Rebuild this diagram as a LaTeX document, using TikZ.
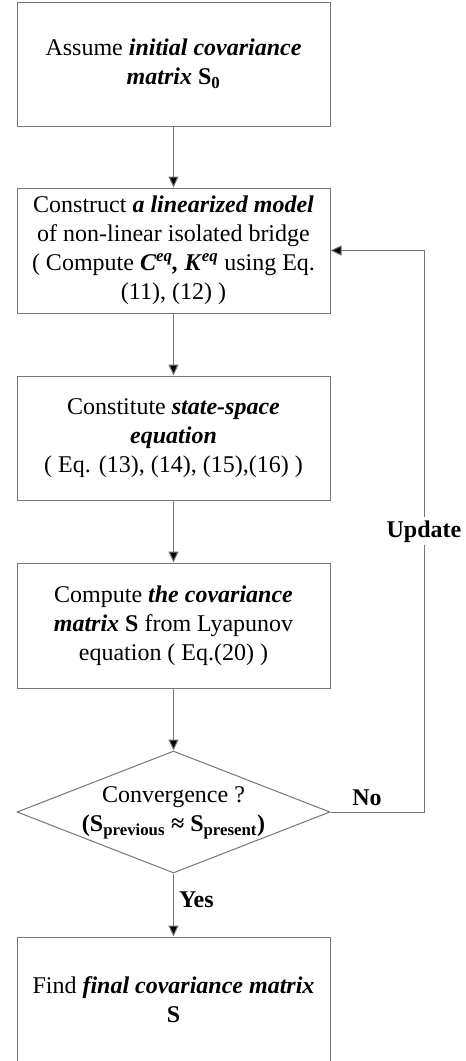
\documentclass[tikz,border=0pt]{standalone}
\usepackage{fontspec}
\setmainfont{Liberation Serif}
\usetikzlibrary{arrows.meta,shapes.geometric}
\definecolor{linegray}{RGB}{118,118,118}
\newcommand{\bi}[1]{\textbf{\textit{#1}}}
\begin{document}
\begin{tikzpicture}[x=1pt,y=1pt,
  every node/.style={font=\fontsize{24}{29}\selectfont},
  procbox/.style={draw=linegray, line width=1pt, minimum width=313pt, inner sep=0pt, align=center, text=black},
  flow/.style={draw=linegray, line width=1pt, -{Triangle[length=11pt,width=10pt,fill=black]}},
  lbl/.style={font=\fontsize{24}{29}\selectfont\bfseries, inner sep=1pt}
]
\useasboundingbox (0,0) rectangle (466,-1061);
\fill[white] (0,0) rectangle (466,-1061);

\node[procbox, minimum height=124pt] (b1) at (173.5,-64) {Assume \bi{initial covariance}\\ \bi{matrix} \textbf{S\textsubscript{0}}};
\node[procbox, minimum height=125pt] (b2) at (173.5,-250.5) {Construct \bi{a linearized model}\\ of non-linear isolated bridge\\ ( Compute \bi{C}\textsuperscript{\bi{eq}}\bi{, K}\textsuperscript{\bi{eq}} using Eq.\\ (11), (12) )};
\node[procbox, minimum height=124pt] (b3) at (173.5,-438) {Constitute \bi{state-space}\\ \bi{equation}\\ ( Eq. (13), (14), (15),(16) )};
\node[procbox, minimum height=125pt] (b4) at (173.5,-625.5) {Compute \bi{the covariance}\\ \bi{matrix} \textbf{S} from Lyapunov\\ equation ( Eq.(20) )};
\node[diamond, draw=linegray, line width=1pt, minimum width=313pt, minimum height=122pt, inner sep=0pt] (d) at (173.5,-812) {};
\node[align=center, inner sep=0pt] (dt) at (173.5,-813) {Convergence ?\\ \textbf{(S\textsubscript{previous} ≈ S\textsubscript{present})}};
\node[procbox, minimum height=125pt] (b5) at (173.5,-999.5) {Find \bi{final covariance matrix}\\ \textbf{S}};

\coordinate (loopc) at (424,-812);

\draw[flow] (b1) -- (b2);
\draw[flow] (b2) -- (b3);
\draw[flow] (b3) -- (b4);
\draw[flow] (b4) -- (d);
\draw[flow] (d) -- node[lbl, right, xshift=4pt, pos=0.42] {Yes} (b5);
\draw[flow] (d.east) -- (loopc) |- node[lbl, pos=0.25, fill=white, inner sep=3pt] {Update} (b2.east);
\node[lbl] (no) at (367,-798) {No};
\end{tikzpicture}
\end{document}
